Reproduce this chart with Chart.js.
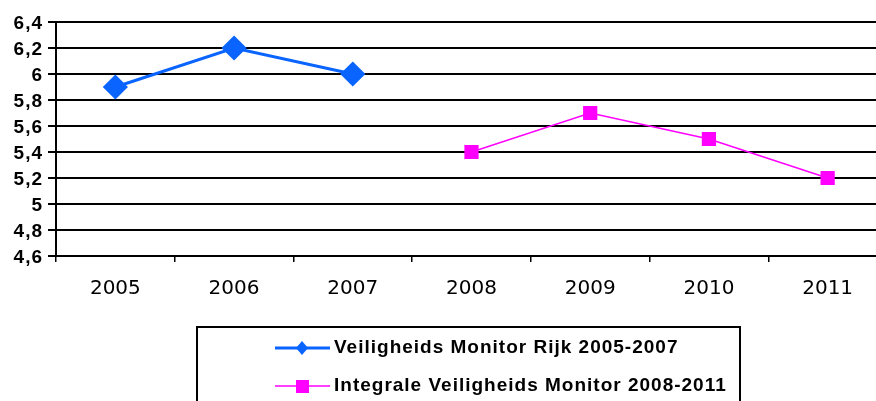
<!DOCTYPE html>
<html>
<head>
<meta charset="utf-8">
<script src="https://cdn.jsdelivr.net/npm/chart.js@4"></script>
<style>
  html, body { margin: 0; padding: 0; background: #fff; overflow: hidden; }
  #wrap { width: 876px; height: 401px; }
</style>
</head>
<body>
<div id="wrap"><canvas id="chart" width="876" height="401"></canvas></div>
<script>
const years = ["2005", "2006", "2007", "2008", "2009", "2010", "2011"];
const rijkValues = [5.9, 6.2, 6.0, null, null, null, null];
const ivmValues = [null, null, null, 5.4, 5.7, 5.5, 5.2];
const seriesNames = ["Veiligheids Monitor Rijk 2005-2007", "Integrale Veiligheids Monitor 2008-2011"];
const yMin = 4.6;
const yMax = 6.4;
const yStep = 0.2;

// the plot runs past the right edge in the original, so stretch the area a bit
const overflowRight = {
  id: "overflowRight",
  beforeDatasetsUpdate(chart) {
    const xs = chart.scales.x;
    const target = 887;
    const extra = target - xs.right;
    if (extra <= 0) return;
    chart.chartArea.right += extra;
    chart.chartArea.width += extra;
    xs.right += extra;
    xs.width += extra;
    xs.configure();
  }
};

// y labels in the original are bold and a bit spaced out
const spacedYLabels = {
  id: "spacedYLabels",
  beforeDraw(chart) {
    const scale = chart.scales.y;
    if (scale._spaced) return;
    const orig = scale.drawLabels;
    scale.drawLabels = function (area) {
      const ctx = this.ctx;
      ctx.save();
      ctx.letterSpacing = "1px";
      orig.call(this, area);
      ctx.restore();
    };
    scale._spaced = true;
  }
};

// legend box drawn below the plot, Excel style
const boxLegend = {
  id: "boxLegend",
  afterDraw(chart) {
    const ctx = chart.ctx;
    ctx.save();
    ctx.strokeStyle = "#000";
    ctx.lineWidth = 2;
    ctx.strokeRect(197, 327, 543, 90);
    const rows = [348, 386];
    chart.data.datasets.forEach((ds, i) => {
      const y = rows[i];
      const cx = 302;
      ctx.strokeStyle = ds.borderColor;
      ctx.lineWidth = ds.borderWidth;
      ctx.beginPath();
      ctx.moveTo(275, y);
      ctx.lineTo(330, y);
      ctx.stroke();
      ctx.fillStyle = ds.pointBackgroundColor;
      if (ds.pointStyle === "rectRot") {
        ctx.beginPath();
        ctx.moveTo(cx, y - 7);
        ctx.lineTo(cx + 6, y);
        ctx.lineTo(cx, y + 7);
        ctx.lineTo(cx - 6, y);
        ctx.closePath();
        ctx.fill();
      } else {
        ctx.fillRect(cx - 6, y - 6, 13, 13);
      }
      ctx.fillStyle = "#000";
      ctx.font = "bold 19px 'Liberation Sans', Arial, sans-serif";
      ctx.letterSpacing = "1px";
      ctx.textBaseline = "middle";
      ctx.textAlign = "left";
      ctx.fillText(ds.label, 334, y);
    });
    ctx.restore();
  }
};

new Chart(document.getElementById("chart"), {
  type: "line",
  data: {
    labels: years,
    datasets: [
      {
        label: seriesNames[0],
        data: rijkValues,
        borderColor: "#0a64ff",
        backgroundColor: "#0a64ff",
        pointBackgroundColor: "#0a64ff",
        pointBorderColor: "#0a64ff",
        borderWidth: 3,
        pointStyle: "rectRot",
        pointRadius: 10.5,
        pointHoverRadius: 10.5,
        tension: 0,
      },
      {
        label: seriesNames[1],
        data: ivmValues,
        borderColor: "#ff00ff",
        backgroundColor: "#ff00ff",
        pointBackgroundColor: "#ff00ff",
        pointBorderColor: "#ff00ff",
        borderWidth: 1.5,
        pointStyle: "rect",
        pointRadius: 9,
        pointHoverRadius: 9,
        tension: 0,
      },
    ],
  },
  options: {
    responsive: false,
    animation: false,
    devicePixelRatio: 1,
    layout: { padding: { left: 0, top: 22, right: 0, bottom: 0 } },
    plugins: {
      legend: { display: false },
      tooltip: { enabled: false },
    },
    scales: {
      x: {
        offset: true,
        grid: {
          display: true,
          offset: true,
          drawOnChartArea: false,
          drawTicks: true,
          tickLength: 6,
          color: "#000",
          lineWidth: 1.5,
        },
        border: { display: false },
        ticks: {
          color: "#000",
          padding: 15,
          font: { family: "'DejaVu Sans', Verdana, sans-serif", size: 20 },
        },
        afterFit(scale) { scale.height = 145; },
      },
      y: {
        min: yMin,
        max: yMax,
        grid: {
          color: "#000",
          lineWidth: 2,
          tickLength: 8,
        },
        border: { display: true, color: "#000", width: 2 },
        ticks: {
          stepSize: yStep,
          color: "#000",
          padding: 5,
          labelOffset: 2,
          font: { family: "'Liberation Sans', Arial, sans-serif", size: 19, weight: "bold" },
          callback: (v) => (Math.round(v * 10) / 10).toString().replace(".", ","),
        },
        afterFit(scale) { scale.width = 56; },
      },
    },
  },
  plugins: [overflowRight, spacedYLabels, boxLegend],
});
</script>
</body>
</html>
